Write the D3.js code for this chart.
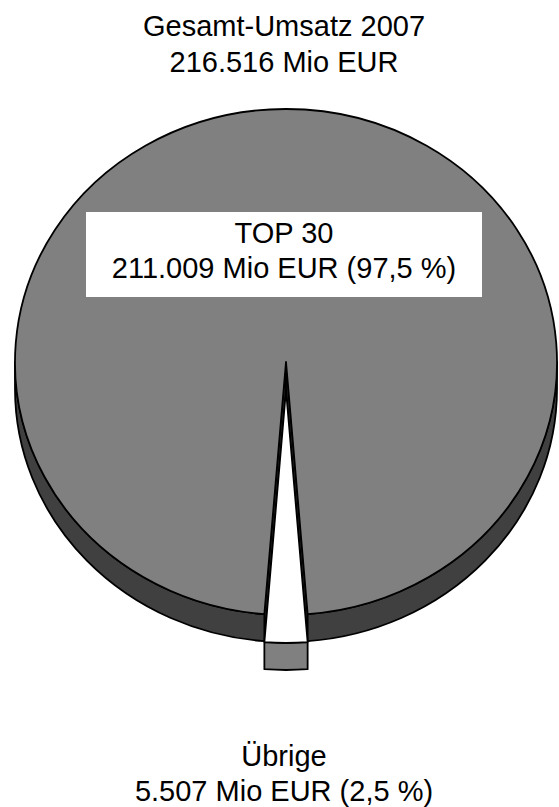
<!DOCTYPE html>
<html>
<head>
<meta charset="utf-8">
<script src="https://cdn.jsdelivr.net/npm/d3@7"></script>
<style>
  html, body { margin: 0; padding: 0; background: #fff; }
  svg { display: block; }
</style>
</head>
<body>
<script>
const categories = ["TOP 30", "Übrige"];
const values = [211009, 5507];
const topColors = ["#808080", "#ffffff"];
const sideColors = ["#404040", "#808080"];
const titleLines = ["Gesamt-Umsatz 2007"];
const unit = "Mio EUR";

const W = 559, H = 807;
const cx = 286, cy = 362, rx = 271, ry = 253, depth = 27, explode = [0, 28];
const FONT = "Arial, 'Liberation Sans', Arimo, Helvetica, sans-serif";

const de = d3.formatLocale({ decimal: ",", thousands: ".", grouping: [3], currency: ["", " EUR"] });
const fmtInt = de.format(",d");
const fmtPct = de.format(".1f");
const total = d3.sum(values);

const svg = d3.select("body").append("svg").attr("width", W).attr("height", H);

const smallFrac = values[1] / total;
const pie = d3.pie().sort(null)
  .startAngle(Math.PI + Math.PI * smallFrac)
  .endAngle(3 * Math.PI + Math.PI * smallFrac);
const arcs = pie(values);

function pt(a, dx, dy, yoff) {
  return [cx + dx + rx * Math.sin(a), cy + dy + yoff - ry * Math.cos(a)];
}
function topPath(a0, a1, dx, dy) {
  const p0 = pt(a0, dx, dy, 0), p1 = pt(a1, dx, dy, 0);
  const large = (a1 - a0) > Math.PI ? 1 : 0;
  return `M${cx + dx},${cy + dy}L${p0}A${rx},${ry} 0 ${large} 1 ${p1}Z`;
}
function sidePath(a0, a1, dx, dy) {
  const p0 = pt(a0, dx, dy, 0), p1 = pt(a1, dx, dy, 0);
  const q1 = pt(a1, dx, dy, depth), q0 = pt(a0, dx, dy, depth);
  return `M${p0}A${rx},${ry} 0 0 1 ${p1}L${q1}A${rx},${ry} 0 0 0 ${q0}Z`;
}
function wallPath(a, dx, dy) {
  const p = pt(a, dx, dy, 0), q = pt(a, dx, dy, depth);
  return `M${cx + dx},${cy + dy}L${p}L${q}L${cx + dx},${cy + dy + depth}Z`;
}
function frontRanges(a0, a1) {
  const out = [];
  for (let k = -1; k <= 2; k++) {
    const lo = Math.PI / 2 + 2 * Math.PI * k, hi = 3 * Math.PI / 2 + 2 * Math.PI * k;
    const s = Math.max(a0, lo), e = Math.min(a1, hi);
    if (e > s) out.push([s, e]);
  }
  return out;
}

const g = svg.append("g").attr("stroke", "#000").attr("stroke-width", 1.8).attr("stroke-linejoin", "round");

const big = arcs[0];
g.append("path").attr("d", wallPath(big.startAngle, 0, 0)).attr("fill", sideColors[0]);
g.append("path").attr("d", wallPath(big.endAngle, 0, 0)).attr("fill", sideColors[0]);
frontRanges(big.startAngle, big.endAngle).forEach(([s, e]) => {
  g.append("path").attr("d", sidePath(s, e, 0, 0)).attr("fill", sideColors[0]);
});
g.append("path").attr("d", topPath(big.startAngle, big.endAngle, 0, 0)).attr("fill", topColors[0]);

const sm = arcs[1];
const [ex, ey] = explode;
frontRanges(sm.startAngle, sm.endAngle).forEach(([s, e]) => {
  g.append("path").attr("d", sidePath(s, e, ex, ey)).attr("fill", sideColors[1]);
});
g.append("path").attr("d", topPath(sm.startAngle, sm.endAngle, ex, ey)).attr("fill", topColors[1]);

const tx = 284;
function label(y, str) {
  svg.append("text").attr("x", tx).attr("y", y).attr("text-anchor", "middle")
    .attr("font-family", FONT).attr("font-size", 29).attr("fill", "#000").text(str);
}
label(36, titleLines[0]);
label(72, `${fmtInt(total)} ${unit}`);

svg.append("rect").attr("x", 86).attr("y", 212).attr("width", 396).attr("height", 85).attr("fill", "#fff");
label(243, categories[0]);
label(278, `${fmtInt(values[0])} ${unit} (${fmtPct(values[0] / total * 100)} %)`);

label(766, categories[1]);
label(801, `${fmtInt(values[1])} ${unit} (${fmtPct(values[1] / total * 100)} %)`);
</script>
</body>
</html>
